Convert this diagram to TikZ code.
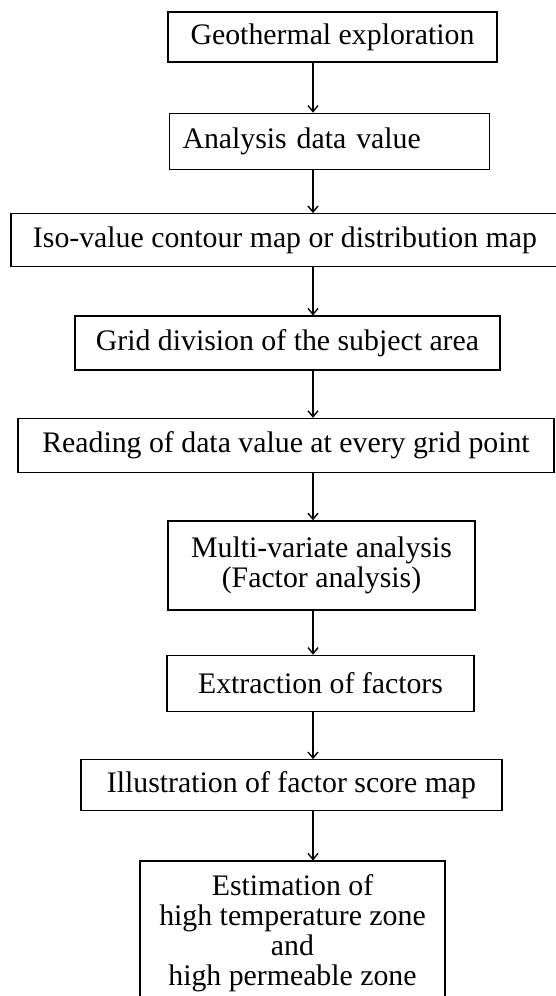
\documentclass[tikz,border=0pt]{standalone}
\usepackage{fontspec}
\setmainfont{Liberation Serif}
\usetikzlibrary{positioning}
\usetikzlibrary{arrows.meta}

\begin{document}
\begin{tikzpicture} [x=1pt, y=1pt, line width=1.4pt, >={Straight Barb[length=6pt, width=10pt]},
        box/.style = {draw, rectangle, inner ysep=3pt, align=center, font=\fontsize{29.8}{30}\selectfont}]
        \useasboundingbox (0,0) rectangle (555,996);

        %Knoten
        \node[box, minimum width=329pt, minimum height=50pt] (geo) at (332.5,959) {Geothermal exploration};
        \node[box, minimum height=56pt, text width=294pt, inner xsep=13pt, align=left] (ana) [below = 50pt of geo, xshift=-3pt] {Analysis data value};
        \node[box, minimum width=548pt, minimum height=53pt] (iso) [below = 43pt of ana, xshift=-44.5pt] {Iso-value contour map or distribution map};
        \node[box, minimum width=425pt, minimum height=54pt] (grid) [below = 48pt of iso, xshift=2.5pt] {Grid division of the subject area};
        \node[box, minimum width=536pt, minimum height=54pt] (read) [below = 47pt of grid, xshift=-1.5pt] {Reading of data value at every grid point};
        \node[box, minimum width=307pt, minimum height=89pt] (mva) [below = 47pt of read, xshift=35.5pt] {Multi-variate analysis\\(Factor analysis)};
        \node[box, minimum width=307pt, minimum height=56pt] (ext) [below = 44pt of mva, xshift=-1pt] {Extraction of factors};
        \node[box, minimum width=421pt, minimum height=51pt] (ill) [below = 47pt of ext, xshift=-29pt] {Illustration of factor score map};
        \node[box, minimum width=305pt, minimum height=144pt] (est) [below = 49pt of ill, xshift=1pt] {Estimation of\\high temperature zone\\and\\high permeable zone};

        \coordinate (spine) at (313,0);

        %Kanten
        \draw[->] (geo.south -| spine) -- (ana.north -| spine);
        \draw[->] (ana.south -| spine) -- (iso.north -| spine);
        \draw[->] (iso.south -| spine) -- (grid.north -| spine);
        \draw[->] (grid.south -| spine) -- (read.north -| spine);
        \draw[->] (read.south -| spine) -- (mva.north -| spine);
        \draw[->] (mva.south -| spine) -- (ext.north -| spine);
        \draw[->] (ext.south -| spine) -- (ill.north -| spine);
        \draw[->] (ill.south -| spine) -- (est.north -| spine);

    \end{tikzpicture}
\end{document}
